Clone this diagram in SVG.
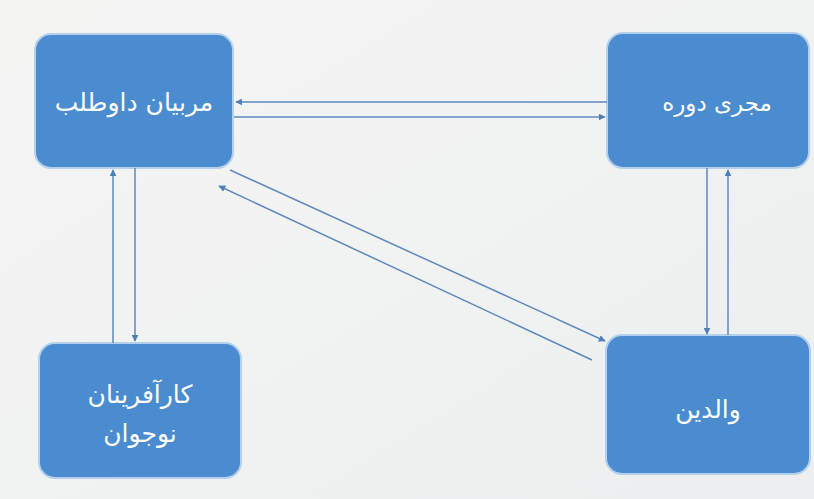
<svg xmlns="http://www.w3.org/2000/svg" width="814" height="499" viewBox="0 0 814 499">
<defs>
<linearGradient id="bg" x1="0" y1="0" x2="1" y2="1">
<stop offset="0" stop-color="#f4f4f3"/>
<stop offset="0.5" stop-color="#f1f2f2"/>
<stop offset="1" stop-color="#eceeef"/>
</linearGradient>
<marker id="ah" viewBox="0 0 10 10" refX="9" refY="5" markerWidth="7" markerHeight="7" markerUnits="userSpaceOnUse" orient="auto">
<path d="M0,0 L10,5 L0,10 z" fill="#4f7fb8"/>
</marker>
<style>
.node{fill:#4a8ccf;stroke:#b3d0ec;stroke-width:2}
.lbl{font-family:"DejaVu Sans",sans-serif;font-size:25px;fill:#ffffff;text-anchor:middle}
.c{stroke:#5d88bf;stroke-width:1.5;fill:none;marker-end:url(#ah)}
</style>
</defs>
<rect width="814" height="499" fill="url(#bg)"/>
<g id="n-morabiyan">
<rect class="node" x="35" y="34" width="198" height="134" rx="16"/>
<text class="lbl" x="134" y="111" direction="rtl">مربیان داوطلب</text>
</g>
<g id="n-mojri">
<rect class="node" x="607" y="33" width="202" height="135" rx="16"/>
<text class="lbl" x="717" y="111" direction="rtl" style="font-size:23px">مجری دوره</text>
</g>
<g id="n-karafarinan">
<rect class="node" x="39" y="343" width="202" height="135" rx="16"/>
<text class="lbl" x="140" y="403" direction="rtl">کارآفرینان</text>
<text class="lbl" x="140" y="442" direction="rtl">نوجوان</text>
</g>
<g id="n-valedein">
<rect class="node" x="606" y="335" width="204" height="139" rx="16"/>
<text class="lbl" x="708" y="418" direction="rtl">والدین</text>
</g>
<g id="connectors">
<line class="c" x1="607" y1="102" x2="236" y2="102"/>
<line class="c" x1="234" y1="117" x2="605" y2="117"/>
<line class="c" x1="113" y1="343" x2="113" y2="170"/>
<line class="c" x1="135" y1="168" x2="135" y2="341"/>
<line class="c" x1="707" y1="168" x2="707" y2="334"/>
<line class="c" x1="728" y1="335" x2="728" y2="170"/>
<line class="c" x1="230" y1="170" x2="605" y2="341"/>
<line class="c" x1="592" y1="360" x2="219" y2="186"/>
</g>
</svg>
